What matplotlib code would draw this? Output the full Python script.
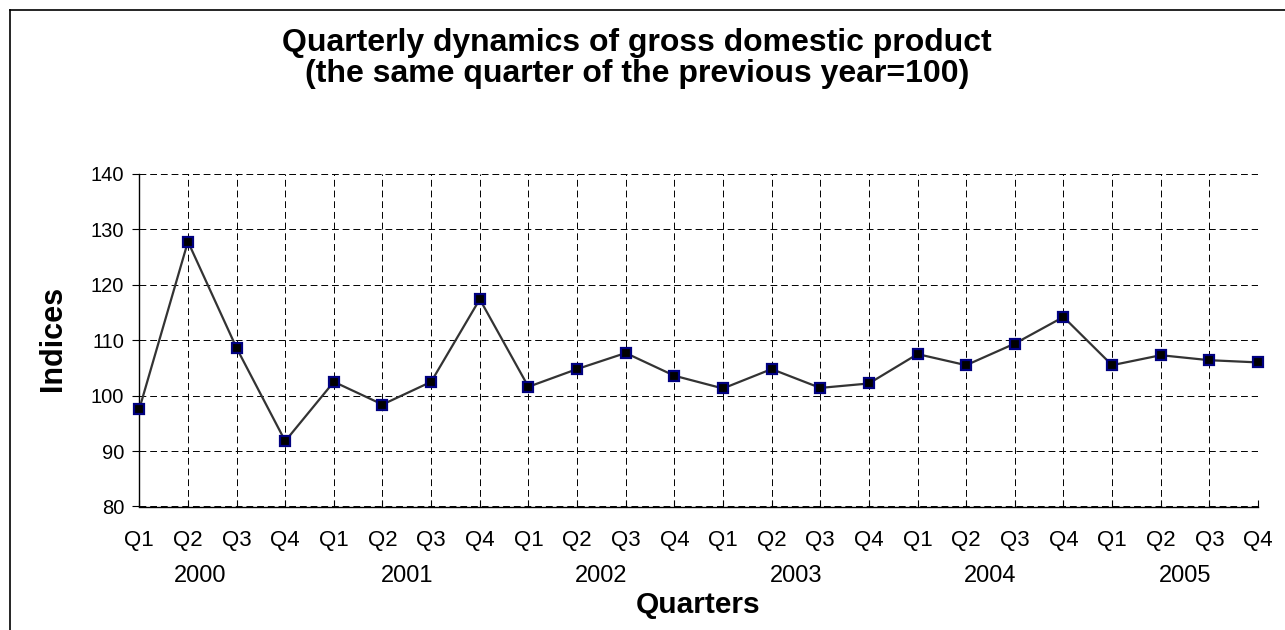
import matplotlib.pyplot as plt
from matplotlib.transforms import blended_transform_factory
from matplotlib.lines import Line2D

plt.rcParams['font.family'] = ['Liberation Sans', 'DejaVu Sans']

years = ['2000', '2001', '2002', '2003', '2004', '2005']
quarters = ['Q1', 'Q2', 'Q3', 'Q4']
gdp = [97.6, 127.8, 108.6, 91.8,
       102.5, 98.4, 102.5, 117.4,
       101.6, 104.8, 107.7, 103.6,
       101.3, 104.8, 101.4, 102.2,
       107.5, 105.5, 109.4, 114.2,
       105.5, 107.3, 106.4, 106.0]

W, H = 1285, 630
fig = plt.figure(figsize=(W / 100, H / 100), dpi=100)
fig.patch.set_facecolor('white')

# outer chart border (left and top visible)
fig.add_artist(Line2D([10 / W, 10 / W], [0, 1 - 10 / H], color='black', lw=1.2))
fig.add_artist(Line2D([10 / W, 1], [1 - 10 / H, 1 - 10 / H], color='black', lw=1.2))

ax = fig.add_axes([139.3 / W, 1 - 506.5 / H, (1258 - 139.3) / W, (506.5 - 174) / H])

x = list(range(len(gdp)))
ax.plot(x, gdp, color='#333333', lw=1.6, marker='s', ms=7,
        mfc='black', mec='#000080', mew=1.6, zorder=5, clip_on=False)

ax.set_xlim(0, len(gdp) - 1)
ax.set_ylim(80, 140)
ax.set_yticks(range(80, 141, 10))

labels = quarters * len(years)
ax.set_xticks(x)
ax.set_xticklabels(labels, fontsize=16)
ax.tick_params(axis='x', direction='in', length=5, pad=17, width=0.8)
ax.tick_params(axis='y', direction='out', length=5, pad=6, width=0.8, labelsize=14.5)

dash = (0, (7, 4))
ax.grid(True, color='black', lw=0.7, linestyle=dash)
ax.set_axisbelow(True)

for side in ['top', 'right']:
    ax.spines[side].set_visible(False)
for side in ['left', 'bottom']:
    ax.spines[side].set_linewidth(1.0)

# year labels under the quarter labels (first group is clipped at the axis)
tr = blended_transform_factory(ax.transData, fig.transFigure)
for k, yr in enumerate(years):
    xc = 4 * k + 1.5 if k else 1.25
    ax.text(xc, 1 - 576 / H, yr, transform=tr, ha='center', va='center',
            fontsize=17)

fig.text(637 / W, 1 - 43 / H, 'Quarterly dynamics of gross domestic product',
         ha='center', va='center', fontsize=23, fontweight='bold')
fig.text(637 / W, 1 - 74 / H, '(the same quarter of the previous year=100)',
         ha='center', va='center', fontsize=23, fontweight='bold')
fig.text(698 / W, 1 - 605 / H, 'Quarters', ha='center', va='center',
         fontsize=21.5, fontweight='bold')
fig.text(53 / W, 1 - 338 / H, 'Indices', ha='center', va='center',
         fontsize=22, fontweight='bold', rotation=90)

fig.savefig('out.png', dpi=100)
